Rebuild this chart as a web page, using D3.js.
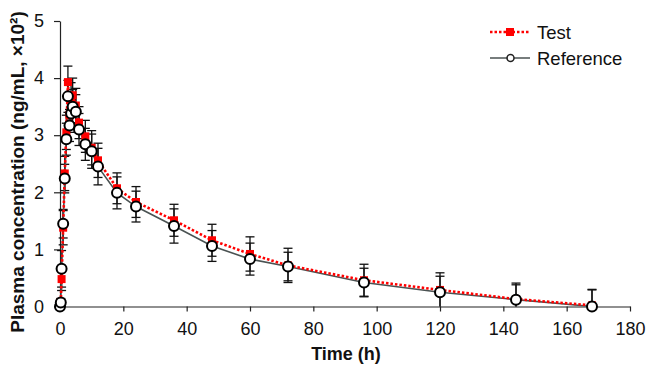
<!DOCTYPE html>
<html><head><meta charset="utf-8">
<script src="https://cdn.jsdelivr.net/npm/d3@7"></script>
<style>
body{margin:0;background:#fff;}
svg{display:block;font-family:"Liberation Sans",Arial,sans-serif;}
</style></head>
<body><svg id="c" width="650" height="368"></svg>
<script>
const times = [0, 0.25, 0.5, 1, 1.5, 2, 2.5, 3, 3.5, 4, 5, 6, 8, 10, 12, 18, 24, 36, 48, 60, 72, 96, 120, 144, 168];
const testMean = [0, 0.08, 0.48, 1.38, 2.33, 3.05, 3.93, 3.35, 3.62, 3.70, 3.52, 3.22, 2.98, 2.78, 2.56, 2.07, 1.83, 1.51, 1.16, 0.92, 0.72, 0.46, 0.29, 0.13, 0.02];
const refMean = [0, 0.07, 0.66, 1.45, 2.24, 2.93, 3.68, 3.17, 3.38, 3.50, 3.41, 3.10, 2.84, 2.72, 2.45, 1.99, 1.75, 1.41, 1.06, 0.83, 0.70, 0.42, 0.25, 0.12, 0.0];
const testSD = [0, 0.06, 0.2, 0.3, 0.3, 0.3, 0.28, 0.3, 0.3, 0.3, 0.3, 0.28, 0.28, 0.3, 0.3, 0.27, 0.27, 0.28, 0.28, 0.3, 0.3, 0.28, 0.3, 0.28, 0.28];
const refSD = [0, 0.05, 0.32, 0.25, 0.25, 0.28, 0.28, 0.28, 0.28, 0.3, 0.3, 0.28, 0.28, 0.3, 0.32, 0.28, 0.27, 0.3, 0.27, 0.28, 0.25, 0.25, 0.28, 0.26, 0.29];
const xTicks = [0, 20, 40, 60, 80, 100, 120, 140, 160, 180];
const yTicks = [0, 1, 2, 3, 4, 5];
const seriesNames = ["Test", "Reference"];
const xTitle = "Time (h)";
const yTitle = "Plasma concentration (ng/mL, \u00d710\u00b2)";

const svg = d3.select("#c");
const x = d3.scaleLinear().domain([0, 180]).range([60, 630]);
const y = d3.scaleLinear().domain([0, 5]).range([306.5, 21]);

// axes
const xAxis = svg.append("g").attr("transform", `translate(0,${y(0)})`)
  .call(d3.axisBottom(x).tickValues(xTicks).tickFormat(d3.format("d")).tickSize(5).tickPadding(11).tickSizeOuter(0));
const yAxis = svg.append("g").attr("transform", `translate(${x(0)},0)`)
  .call(d3.axisLeft(y).tickValues(yTicks).tickFormat(d3.format("d")).tickSize(6).tickPadding(10).tickSizeOuter(0));
[xAxis, yAxis].forEach(g => {
  g.selectAll("path,line").attr("stroke", "#222").attr("stroke-width", 1.2);
  g.selectAll("text").attr("font-size", 18).attr("fill", "#111")
    .attr("font-family", "'Liberation Sans',Arial,sans-serif");
});

svg.append("text").attr("x", 346).attr("y", 360).attr("text-anchor", "middle")
  .attr("font-size", 18).attr("font-weight", "bold").attr("fill", "#111").text(xTitle);
svg.append("text").attr("transform", "translate(24,172) rotate(-90)").attr("text-anchor", "middle")
  .attr("font-size", 19).attr("font-weight", "bold").attr("fill", "#111").text(yTitle);

const test = times.map((t, i) => ({t, m: testMean[i], sd: testSD[i]}));
const ref = times.map((t, i) => ({t, m: refMean[i], sd: refSD[i]}));

// error bars
function errBars(data) {
  const g = svg.append("g").attr("stroke", "#111").attr("stroke-width", 1.3);
  data.forEach(d => {
    if (d.sd <= 0) return;
    const hi = d.m + d.sd, lo = Math.max(0, d.m - d.sd);
    const cx = x(d.t);
    g.append("line").attr("x1", cx).attr("x2", cx).attr("y1", y(hi)).attr("y2", y(lo));
    g.append("line").attr("x1", cx - 4.5).attr("x2", cx + 4.5).attr("y1", y(hi)).attr("y2", y(hi));
    if (d.m - d.sd > 0)
      g.append("line").attr("x1", cx - 4.5).attr("x2", cx + 4.5).attr("y1", y(lo)).attr("y2", y(lo));
  });
}
errBars(test);
errBars(ref);

const line = d3.line().x(d => x(d.t)).y(d => y(d.m));
svg.append("path").datum(ref).attr("d", line).attr("fill", "none")
  .attr("stroke", "#4a5252").attr("stroke-width", 1.6);
svg.append("path").datum(test).attr("d", line).attr("fill", "none")
  .attr("stroke", "#ff0000").attr("stroke-width", 2.6).attr("stroke-dasharray", "2.5,2");
svg.append("g").selectAll("rect").data(test).join("rect")
  .attr("x", d => x(d.t) - 4).attr("y", d => y(d.m) - 4).attr("width", 8).attr("height", 8)
  .attr("fill", "#ff0000");
svg.append("g").selectAll("circle").data(ref).join("circle")
  .attr("cx", d => x(d.t)).attr("cy", d => y(d.m)).attr("r", 5)
  .attr("fill", "#fff").attr("stroke", "#000").attr("stroke-width", 2);

// legend
const lg = svg.append("g");
lg.append("line").attr("x1", 490).attr("x2", 530).attr("y1", 32).attr("y2", 32)
  .attr("stroke", "#ff0000").attr("stroke-width", 2.6).attr("stroke-dasharray", "2.5,2");
lg.append("rect").attr("x", 506).attr("y", 28).attr("width", 8).attr("height", 8).attr("fill", "#ff0000");
lg.append("text").attr("x", 537).attr("y", 38.5).attr("font-size", 18.5).attr("fill", "#111").text(seriesNames[0]);
lg.append("line").attr("x1", 490).attr("x2", 530).attr("y1", 58).attr("y2", 58)
  .attr("stroke", "#4a5252").attr("stroke-width", 1.6);
lg.append("circle").attr("cx", 510.5).attr("cy", 58).attr("r", 3.5)
  .attr("fill", "#fff").attr("stroke", "#222").attr("stroke-width", 1.5);
lg.append("text").attr("x", 537).attr("y", 64.5).attr("font-size", 18.5).attr("fill", "#111").text(seriesNames[1]);
</script></body></html>
